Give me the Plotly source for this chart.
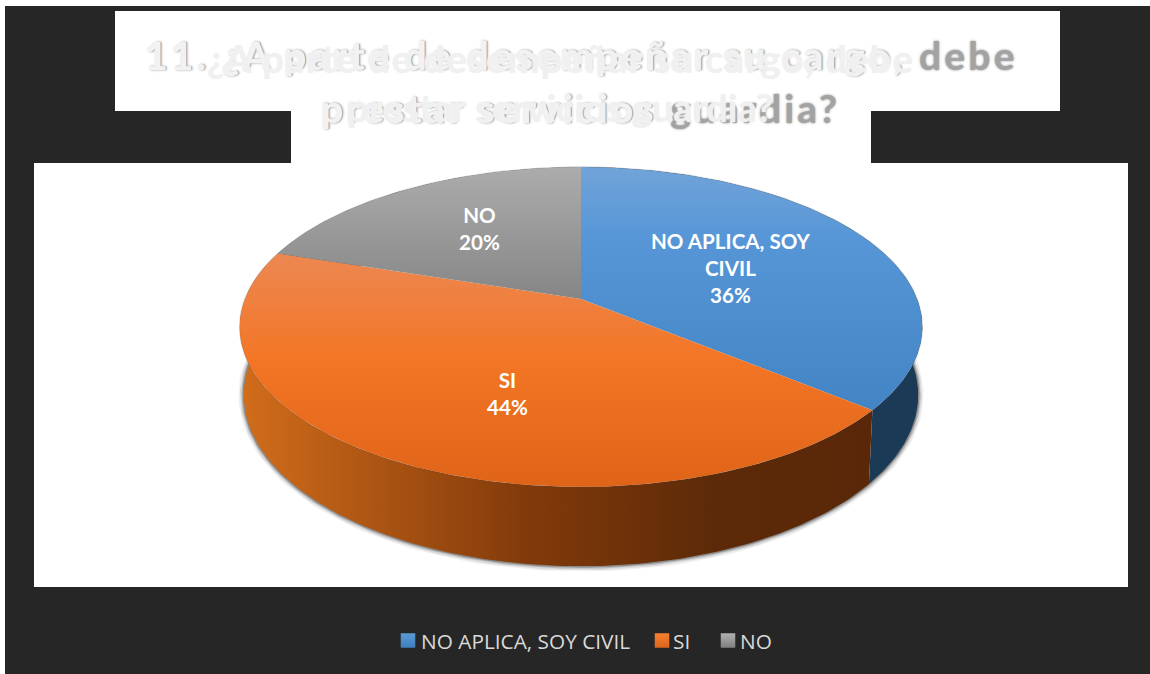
import numpy as np
import plotly.graph_objects as go

# Chart content
categories = ["NO APLICA, SOY CIVIL", "SI", "NO"]
shares = [36, 44, 20]
slice_labels = ["NO APLICA, SOY<br>CIVIL<br>36%", "SI<br>44%", "NO<br>20%"]
title_line_1 = "11. ¿A parte de desempeñar su cargo, debe"
title_line_2 = "prestar servicios guardia?"
subtitle_line_1 = "¿A parte de desempeñar su cargo, debe"
subtitle_line_2 = "prestar servicios guardia?"

# Face and wall shading per category
top_scales = [
    [[0, "rgb(113,163,216)"], [0.3, "rgb(86,150,215)"], [1, "rgb(66,132,196)"]],
    [[0, "rgb(236,136,82)"], [0.45, "rgb(243,118,38)"], [1, "rgb(224,100,24)"]],
    [[0, "rgb(172,172,172)"], [1, "rgb(134,134,134)"]],
]
wall_scales = [
    [[0, "rgb(27,58,86)"], [1, "rgb(27,58,86)"]],
    [[0, "rgb(208,108,26)"], [0.45, "rgb(130,58,10)"], [0.75, "rgb(92,42,8)"], [1, "rgb(90,40,8)"]],
    [[0, "rgb(90,90,90)"], [1, "rgb(90,90,90)"]],
]
swatch_colors = [("#5b9bd5", "#3f7fbd"), ("#f98030", "#d9661a"), ("#b0b0b0", "#808080")]

# Perspective projection of the disc onto the canvas (axes run in screen pixels)
CX = 581
PERSPECTIVE = 0.175
TOP = dict(a=336, b=155, y0=299)
BOTTOM = dict(a=332, b=166, y0=365)


def rim(deg, plane):
    t = np.radians(deg)
    u, v = np.sin(t), np.cos(t)
    w = 1 + PERSPECTIVE * v
    return CX + plane["a"] * u / w, plane["y0"] - plane["b"] * v / w


edges = np.cumsum([0] + shares) * 3.6
fig = go.Figure()

# Soft shadow hugging the outer wall
arc = np.arange(62, 292, 1.0)
for width, alpha in [(11, 0.06), (8, 0.09), (5, 0.16), (2.5, 0.25)]:
    sx, sy = rim(arc, BOTTOM)
    fig.add_trace(go.Scatter(x=sx, y=sy, mode="lines", hoverinfo="skip", showlegend=False,
                             line=dict(color=f"rgba(0,0,0,{alpha})", width=width)))

# Outer wall of each slice, painted before the top faces
for i in [2, 0, 1]:
    deg = np.linspace(edges[i], edges[i + 1], 200)
    tx, ty = rim(deg, TOP)
    bx, by = rim(deg[::-1], BOTTOM)
    fig.add_trace(go.Scatter(
        x=np.r_[tx, bx], y=np.r_[ty, by], mode="lines", fill="toself", hoverinfo="skip",
        showlegend=False, line=dict(width=0),
        fillgradient=dict(type="horizontal", colorscale=wall_scales[i], start=246, stop=872),
    ))

# Faint edge along the rim of the disc
ex, ey = rim(np.arange(0, 361, 1.0), TOP)
fig.add_trace(go.Scatter(x=ex, y=ey, mode="lines", hoverinfo="skip", showlegend=False,
                         line=dict(color="rgba(70,70,70,0.25)", width=1.5)))

# Top faces
for i, name in enumerate(categories):
    deg = np.linspace(edges[i], edges[i + 1], 200)
    rx, ry = rim(deg, TOP)
    lower = 167 if i != 1 else 253
    upper = 298 if i == 2 else (410 if i == 0 else 487)
    fig.add_trace(go.Scatter(
        x=np.r_[CX, rx, CX], y=np.r_[TOP["y0"], ry, TOP["y0"]], mode="lines", fill="toself",
        name=name, line=dict(width=0),
        fillgradient=dict(type="vertical", colorscale=top_scales[i], start=lower, stop=upper),
    ))

# Key below the plot
key_swatch_x = [408, 662, 728]
key_text_x = [419, 671, 738]
key_y = 640.5
annotations = []


def note(text, x, y, anchor="center", **font):
    annotations.append(dict(text=text, x=x, y=y, xref="x", yref="y", showarrow=False,
                            xanchor=anchor, yanchor="middle", font=font))


for i, name in enumerate(categories):
    fig.add_trace(go.Scatter(
        x=[key_swatch_x[i]], y=[key_y], mode="markers", showlegend=False, hoverinfo="skip",
        marker=dict(symbol="square", size=14.5, color=swatch_colors[i][0], line=dict(width=0),
                    gradient=dict(type="vertical", color=swatch_colors[i][1])),
    ))
    note(name, key_text_x[i], 641, anchor="left", family="Open Sans", size=20.8, color="#d9d9d9")

# Slice labels
for text, x, y in zip(slice_labels, [730, 507, 479], [267.5, 393.5, 228]):
    note(text, x, y, family="Lato", size=20.6, color="white", weight=700)


def spaced(text, px):
    return f'<span style="letter-spacing:{px}px">{text}</span>'


def spaced_split(shown, hidden, px):
    return (f'<span style="letter-spacing:{px}px">{shown}</span>'
            f'<span style="letter-spacing:{px}px;color:rgba(0,0,0,0)">{hidden}</span>')


# Stacked title layers: soft grey base, pale relief, pale heading on top
base = dict(family="Lato", size=39, weight=700)
grey = dict(color="#a3a3a3", shadow="0 0 2.5px #8a8a8a")
note(spaced(title_line_1, 3.2), 582, 55, **base, **grey)
note(spaced(title_line_2, 3.1), 581, 108, **base, **grey)
relief = dict(color="#f2f2f2", shadow="0 0 1px #f8f8f8")
note(spaced_split("11. ¿A parte de desempeñar su cargo,", " debe", 3.2), 581.4, 54.5, **base, **relief)
note(spaced_split("prestar servicios", " guardia?", 3.1), 580.4, 107.5, **base, **relief)
pale = dict(family="Lato", size=38, weight=700, color="#f0f0f0", shadow="0 0 1.5px #f0f0f0")
note(spaced(subtitle_line_1, 1.3), 560, 58, **pale)
note(subtitle_line_2, 560, 107, **pale)

fig.update_layout(
    width=1150, height=674, autosize=False,
    margin=dict(l=0, r=0, t=0, b=0),
    paper_bgcolor="white", plot_bgcolor="rgba(0,0,0,0)",
    showlegend=False,
    xaxis=dict(range=[0, 1150], visible=False, fixedrange=True),
    yaxis=dict(range=[674, 0], visible=False, fixedrange=True),
    annotations=annotations,
    shapes=[
        dict(type="rect", xref="x", yref="y", x0=5, x1=1150, y0=6, y1=674, fillcolor="#262626", line_width=0, layer="below"),
        dict(type="rect", xref="x", yref="y", x0=115, x1=1060, y0=11, y1=111, fillcolor="white", line_width=0, layer="below"),
        dict(type="rect", xref="x", yref="y", x0=291, x1=871, y0=111, y1=163, fillcolor="white", line_width=0, layer="below"),
        dict(type="rect", xref="x", yref="y", x0=34, x1=1128, y0=163, y1=587, fillcolor="white", line_width=0, layer="below"),
    ],
)

fig.write_html("out.html", config=dict(displayModeBar=False))
